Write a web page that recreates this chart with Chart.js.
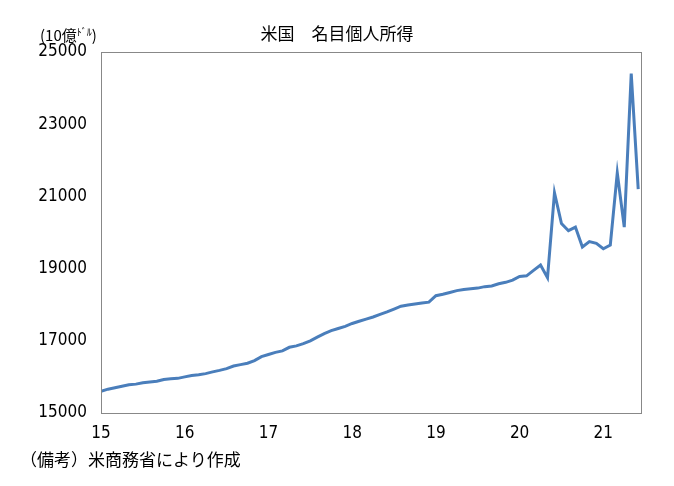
<!DOCTYPE html>
<html><head><meta charset="utf-8">
<script src="https://cdn.jsdelivr.net/npm/chart.js@4/dist/chart.umd.min.js"></script>
<style>
body{margin:0;background:#fff;font-family:"Noto Sans CJK JP",sans-serif;}
#wrap{position:relative;width:674px;height:486px;}
.t{position:absolute;color:#000;white-space:nowrap;}
</style></head><body>
<div id="wrap">
<canvas id="c" width="674" height="486"></canvas>
<div class="t" style="left:0;width:674px;text-align:center;top:20px;font-size:17px;">米国　名目個人所得</div>
<div class="t" style="left:40px;top:24px;font-size:15px;">(10億<span style="font-size:10px;vertical-align:top">ﾄﾞﾙ</span>)</div>
<div class="t" style="left:20px;top:446px;font-size:17px;">（備考）米商務省により作成</div>
</div>
<script>
// monthly, Jan 2015 - Apr 2021
const v2015 = [15450,15550,15540,15600,15660,15700,15740,15780,15800,15840,15860,15880];
const v2016 = [15930,15950,15960,16000,16040,16060,16090,16140,16180,16230,16300,16340];
const v2017 = [16380,16450,16560,16620,16680,16720,16820,16860,16920,17000,17100,17200];
const v2018 = [17280,17340,17400,17480,17540,17600,17660,17730,17800,17880,17960,17990];
const v2019 = [18020,18050,18070,18250,18290,18340,18390,18420,18440,18460,18500,18520];
const v2020 = [18580,18620,18680,18780,18800,18950,19100,18750,21100,20250,20050,20150];
const v2021 = [19600,19750,19700,19550,19650,21650,20150,24400,21200];
const values = [...v2015, ...v2016, ...v2017, ...v2018, ...v2019, ...v2020, ...v2021];
// first point of the series is Oct 2014 + 3 = Jan 2015; shift so the spike falls in Apr 2020
const startMonth = -3;
const yearLabels = ['15','16','17','18','19','20','21'];
const yTicks = [15000,17000,19000,21000,23000,25000];

const boxPlugin = {
  id: 'box',
  afterDraw(chart) {
    const a = chart.chartArea, ctx = chart.ctx;
    ctx.save();
    ctx.strokeStyle = '#888';
    ctx.lineWidth = 1;
    ctx.strokeRect(a.left + 0.5, a.top + 0.5, a.right - a.left, a.bottom - a.top);
    ctx.restore();
  }
};

const tickFont = { family: '"Liberation Sans Narrow","DejaVu Sans Condensed",sans-serif', size: 17 };

new Chart(document.getElementById('c'), {
  type: 'line',
  data: {
    datasets: [{
      data: values.map((v, i) => ({ x: i + startMonth, y: v })).filter(p => p.x >= 0),
      borderColor: '#4a7ebb',
      borderWidth: 3,
      pointRadius: 0,
      tension: 0
    }]
  },
  options: {
    responsive: false,
    animation: false,
    layout: { padding: { left: 0, right: 33, top: 52, bottom: 0 } },
    plugins: { legend: { display: false }, tooltip: { enabled: false } },
    scales: {
      x: {
        type: 'linear', min: 0, max: 77.4,
        afterFit: s => { s.height = 73; },
        afterBuildTicks: s => { s.ticks = yearLabels.map((l, i) => ({ value: i * 12 })); },
        grid: { display: false },
        border: { display: false },
        ticks: { color: '#000', font: tickFont, padding: 2, maxRotation: 0,
          callback: v => yearLabels[Math.round(v / 12)] }
      },
      y: {
        min: 15000, max: 25000,
        afterFit: s => { s.width = 101; },
        afterBuildTicks: s => { s.ticks = yTicks.map(v => ({ value: v })); },
        grid: { display: false },
        border: { display: false },
        ticks: { color: '#000', font: tickFont, padding: 6, callback: v => String(v) }
      }
    }
  },
  plugins: [boxPlugin]
});
</script>
</body></html>
